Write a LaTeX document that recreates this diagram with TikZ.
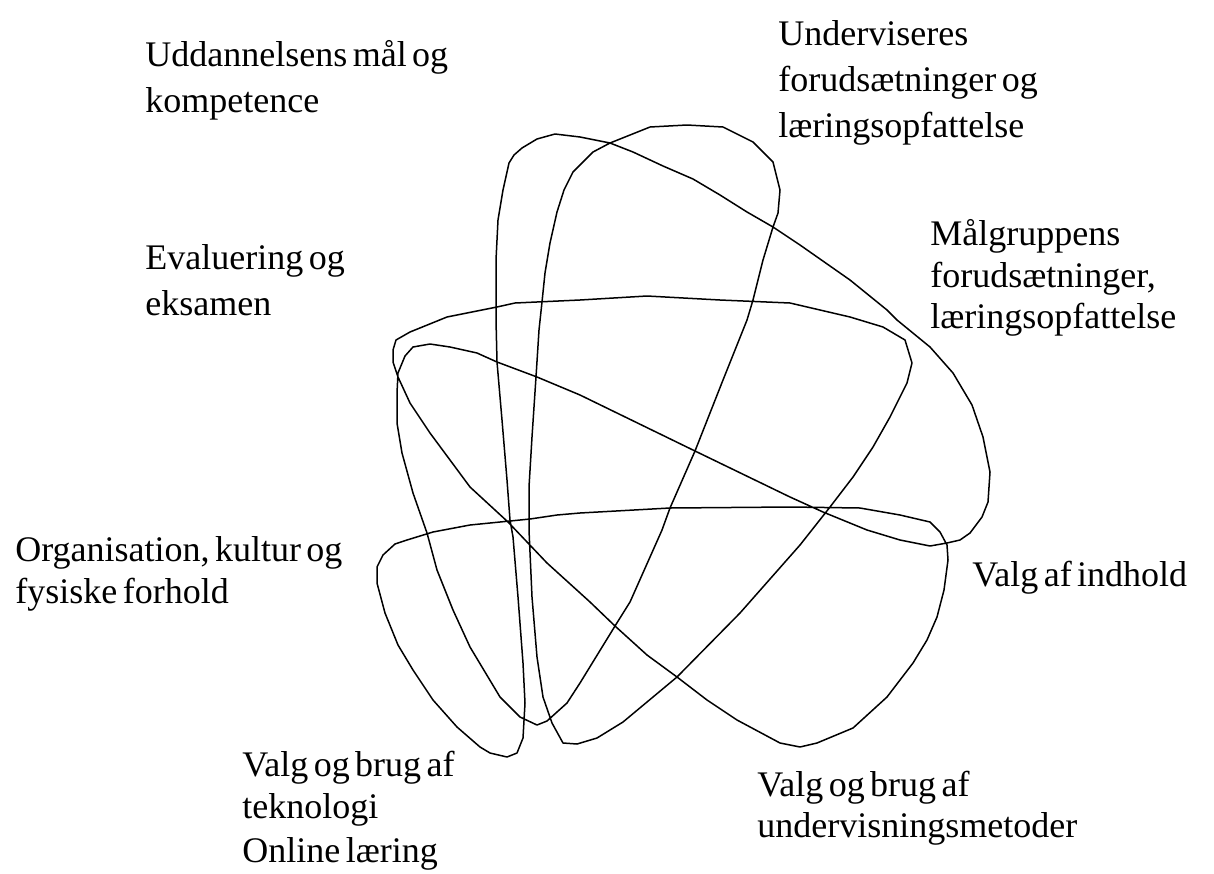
\documentclass[tikz,border=0pt]{standalone}
\usepackage{fontspec}
\setmainfont{Liberation Serif}[WordSpace=0.6]
\begin{document}
\begin{tikzpicture}[x=0.5pt,y=-0.5pt,
  lbl/.style={anchor=base west, inner sep=0pt, font=\fontsize{18}{21}\selectfont},
  petal/.style={line width=0.75pt, line join=round}]
\useasboundingbox (0,0) rectangle (1214,873);
\draw[petal] (537,725) -- (547,721) -- (567,703) -- (580,683) -- (615,626) -- (630,602) -- (662,530) -- (670,508) -- (695,451) -- (723,380) -- (747,320) -- (753,300) -- (763,260) -- (773,227) -- (778,213) -- (780,190) -- (773,162) -- (753,142) -- (723,127) -- (687,125) -- (650,127) -- (610,143) -- (593,152) -- (573,172) -- (564,190) -- (557,212) -- (550,243) -- (545,273) -- (542,302) -- (539,330) -- (536,377) -- (532,437) -- (529,487) -- (529,530) -- (532,597) -- (537,657) -- (543,697) -- (552,723) -- (563,743) -- (577,744) -- (597,738) -- (623,722) -- (677,677) -- (740,613) -- (800,545) -- (830,507) -- (853,477) -- (873,447) -- (890,417) -- (907,383) -- (912,363) -- (905,340) -- (883,327) -- (850,317) -- (790,303) -- (720,300) -- (647,296) -- (580,300) -- (515,303) -- (497,307) -- (447,317) -- (410,332) -- (396,340) -- (393,350) -- (393,362) -- (398,377) -- (410,403) -- (430,433) -- (470,487) -- (508,522) -- (547,563) -- (590,602) -- (615,626) -- (647,655) -- (677,677) -- (707,700) -- (737,720) -- (780,743) -- (800,747) -- (817,743) -- (853,728) -- (887,697) -- (913,663) -- (927,640) -- (937,617) -- (944,590) -- (948,560) -- (947,545) -- (940,532) -- (930,522) -- (900,515) -- (860,508) -- (790,507) -- (670,508) -- (580,513) -- (557,515) -- (530,519) -- (510,521) -- (470,525) -- (433,532) -- (407,540) -- (395,544) -- (383,555) -- (377,567) -- (377,583) -- (385,613) -- (398,645) -- (413,670) -- (433,700) -- (457,727) -- (480,747) -- (490,753) -- (507,757) -- (517,753) -- (523,738) -- (525,703) -- (523,663) -- (518,597) -- (513,537) -- (510,520) -- (507,480) -- (502,420) -- (497,362) -- (496,320) -- (496,260) -- (498,220) -- (503,190) -- (509,163) -- (514,155) -- (522,148) -- (537,139) -- (555,134) -- (580,137) -- (610,143) -- (633,152) -- (663,166) -- (693,179) -- (720,195) -- (747,212) -- (773,227) -- (800,245) -- (850,280) -- (887,310) -- (897,320) -- (930,347) -- (953,373) -- (972,405) -- (983,437) -- (990,472) -- (988,502) -- (982,517) -- (970,533) -- (960,540) -- (947,543) -- (930,546) -- (900,540) -- (867,530) -- (823,512) -- (790,497) -- (695,451) -- (580,395) -- (537,377) -- (497,362) -- (477,353) -- (450,347) -- (430,344) -- (413,347) -- (405,356) -- (398,373) -- (397,393) -- (397,423) -- (402,453) -- (413,493) -- (427,533) -- (437,570) -- (453,610) -- (470,647) -- (500,697) -- (520,717) -- cycle;

\node[lbl] (ud1) at (145,66) {Uddannelsens mål og};
\node[lbl] (ud2) at (145,112) {kompetence};
\node[lbl] (un1) at (778,45) {Underviseres};
\node[lbl] (un2) at (778,91) {forudsætninger og};
\node[lbl] (un3) at (778,137) {læringsopfattelse};
\node[lbl] (mg1) at (930,245) {Målgruppens};
\node[lbl] (mg2) at (930,287) {forudsætninger,};
\node[lbl] (mg3) at (930,328) {læringsopfattelse};
\node[lbl] (ev1) at (145,269) {Evaluering og};
\node[lbl] (ev2) at (145,315) {eksamen};
\node[lbl] (or1) at (15,561) {Organisation, kultur og};
\node[lbl] (or2) at (15,603) {fysiske forhold};
\node[lbl] (vi1) at (972,586) {Valg af indhold};
\node[lbl] (te1) at (242,776) {Valg og brug af};
\node[lbl] (te2) at (242,818) {teknologi};
\node[lbl] (te3) at (242,862) {Online læring};
\node[lbl] (um1) at (757,796) {Valg og brug af};
\node[lbl] (um2) at (757,837) {undervisningsmetoder};
\end{tikzpicture}
\end{document}
